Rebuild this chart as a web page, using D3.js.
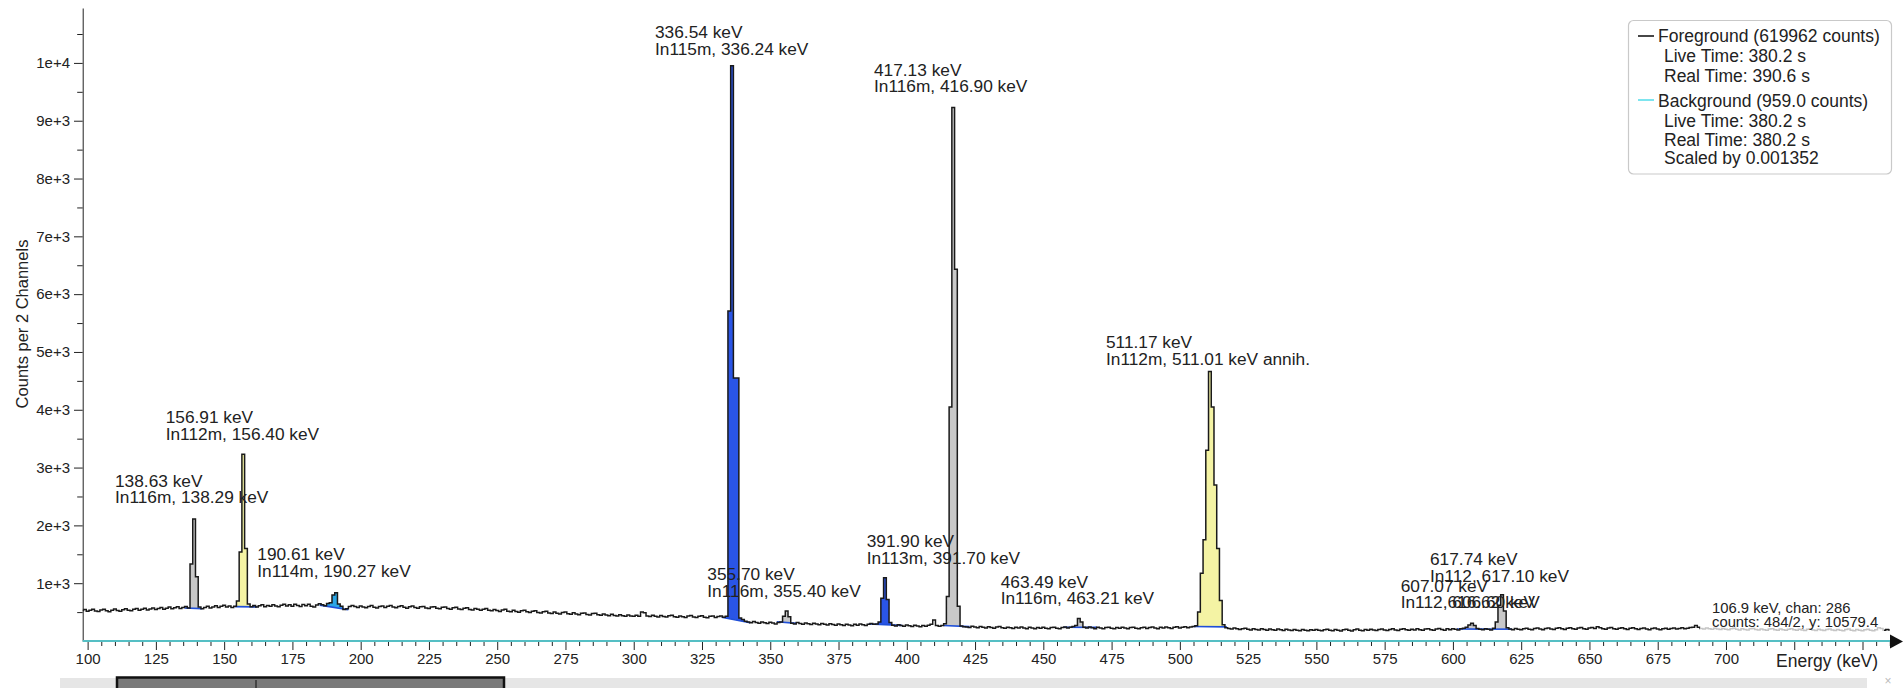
<!DOCTYPE html>
<html><head><meta charset="utf-8">
<script src="https://cdn.jsdelivr.net/npm/d3@7"></script>
<style>
html,body{margin:0;padding:0;background:#fff;overflow:hidden}
svg{display:block;font-family:"Liberation Sans",Arial,Helvetica,sans-serif}
</style></head><body>
<svg id="c" width="1903" height="688"></svg>
<script>
// ---------------- DATA ----------------
const energyStart = 98;      // keV, centre of first 1-keV bin
const foregroundCounts = [
 528,545,515,532,551,520,512,538,550,524,508,534,552,528,516,542,558,530,522,551,562,534,548,566,538,
 552,572,544,561,578,550,566,588,556,574,592,562,580,598,572,1330,2110,1110,590,558,580,602,570,590,610,
 580,600,618,586,606,580,600,690,1540,3230,1600,640,594,616,588,610,626,594,616,600,628,604,592,620,634,
 606,626,600,636,612,596,630,608,634,600,590,622,645,626,608,650,660,796,836,640,600,544,556,596,614,
 596,580,606,588,574,598,612,584,570,596,604,580,600,616,586,574,598,608,582,566,592,604,578,566,592,
 598,570,562,588,594,566,556,582,588,562,548,574,582,554,544,568,576,546,536,564,550,532,550,564,534,
 522,546,528,512,538,550,516,506,532,512,496,522,534,504,492,516,524,494,484,508,516,486,476,500,482,
 468,494,500,472,464,488,466,454,478,486,458,450,474,482,452,444,468,448,436,462,442,432,454,438,426,
 450,434,426,446,428,500,490,432,422,444,428,416,440,424,414,436,444,418,410,434,420,408,432,440,414,
 406,430,436,411,402,426,434,408,424,432,410,430,5710,9950,4550,4550,400,372,340,328,314,338,320,306,328,
 314,302,326,312,296,320,330,430,520,420,308,296,318,302,288,312,300,284,308,294,280,302,290,276,298,
 286,272,294,282,268,290,278,264,288,274,292,280,266,288,302,290,296,330,740,1095,720,320,272,258,280,
 268,254,276,264,251,272,260,246,268,256,274,290,365,268,254,268,300,770,4050,9230,6430,600,258,248,242,
 232,254,244,228,250,238,224,246,234,221,242,250,230,220,240,228,216,238,226,242,224,214,236,224,212,
 234,222,238,220,210,232,240,222,212,234,242,224,238,250,270,390,330,236,224,242,228,214,236,224,210,
 232,240,222,212,234,220,238,226,211,232,240,220,210,230,238,218,232,244,224,214,236,224,242,228,216,
 238,246,226,240,248,230,242,252,262,500,1170,1750,3300,4660,4050,2700,1600,700,280,230,218,206,226,210,200,
 214,220,204,192,214,200,190,212,198,186,208,196,184,206,194,182,202,190,180,200,188,178,198,186,176,
 196,184,200,186,176,196,204,186,176,198,184,174,194,202,184,174,196,206,188,178,198,186,202,190,180,
 200,208,190,180,200,210,192,182,202,212,194,184,204,192,210,196,186,206,214,196,186,208,216,198,188,
 210,196,214,202,192,212,220,240,275,305,270,215,204,194,214,202,192,222,330,620,800,520,230,206,196,
 216,204,194,214,222,204,194,216,224,206,196,218,226,208,198,220,228,210,200,222,230,212,202,224,232,
 214,204,226,234,216,246,230,212,202,224,232,212,202,222,230,210,200,220,228,210,198,218,226,208,196,
 216,224,206,194,214,222,204,216,224,206,218,228,210,222,234,240,270,236,216,206,224,212,202,220,208,
 200,216,204,194,212,220,202,192,212,200,190,210,218,200,190,208,196,186,206,214,196,186,206,194,184,
 204,212,194,184,204,192,182,202,210,192,182,202,190,180,200,208,190,180,200,188,178,198,206,188,178,
 198,186,176,196,204,186,176,196,230,215,188,200,190
];

// background spectrum: raw counts per 25 keV block, scaled for display
const backgroundStart = 98.2, backgroundBlock = 25, backgroundScale = 0.001352;
const backgroundCounts = [52,48,45,47,44,41,40,38,42,37,36,35,38,34,33,32,35,31,30,32,29,28,30,27,26,28,25];

// peak regions of interest (keV) and their continuum (counts) at each end
const roiLow      = [135.5, 154.0, 185.0, 332.2, 352.4, 386.0, 413.4, 457.4, 505.0, 601.5, 611.5];
const roiHigh     = [142.0, 162.0, 195.5, 342.6, 359.7, 398.2, 423.0, 469.6, 517.2, 611.5, 621.6];
const roiContLow  = [570, 595, 620, 410, 334, 294, 268, 238, 250, 207, 205];
const roiContHigh = [560, 590, 540, 317, 305, 270, 248, 236, 245, 205, 205];
const roiKind     = ["gray","yellow","cyan","blue","gray","blue","gray","gray","yellow","gray","gray"];

// peak labels
const peakLine1 = ["138.63 keV","156.91 keV","190.61 keV","336.54 keV","355.70 keV","391.90 keV",
                   "417.13 keV","463.49 keV","511.17 keV","607.07 keV","617.74 keV"];
const peakLine2 = ["In116m, 138.29 keV","In112m, 156.40 keV","In114m, 190.27 keV","In115m, 336.24 keV",
                   "In116m, 355.40 keV","In113m, 391.70 keV","In116m, 416.90 keV","In116m, 463.21 keV",
                   "In112m, 511.01 keV annih.","In112, 606.60 keV","In112, 617.10 keV"];
// label anchors in data coordinates (keV, counts) = left end of first baseline
const labelEnergy = [110.03,128.6,162.14,307.79,326.94,385.32,387.99,434.39,472.95,580.88,591.61];
const labelCounts = [2672,3771,1401,10431,1055,1631,9782,925,5069,856,1315];
const overlapText = "616.62 keV"; // drawn over the 607 label's second line

const legendForeground = ["Foreground (619962 counts)","Live Time: 380.2 s","Real Time: 390.6 s"];
const legendBackground = ["Background (959.0 counts)","Live Time: 380.2 s","Real Time: 380.2 s","Scaled by 0.001352"];
const cursorInfo = ["106.9 keV, chan: 286","counts: 484/2, y: 10579.4"];

const xMajorTicks = d3.range(100, 751, 25);
const xMinorTicks = d3.range(100, 761, 5).filter(v => v % 25 !== 0);
const yMajorTicks = d3.range(1000, 10001, 1000);
const yMinorTicks = d3.range(500, 10501, 1000);

// ---------------- STYLE ----------------
const FONT = '"Liberation Sans",Arial,Helvetica,sans-serif';
const TEXT = "#222";
const fillColor = {gray:"#c8c8c8", yellow:"#f4f3a4", cyan:"#2ba6e6", blue:"#2a55e6"};
const contColor = "#1f4fd8";
const bgColor = "#55bfc4";

// ---------------- CHART ----------------
const svg = d3.select("#c");
const x = d3.scaleLinear().domain([98.2, 763]).range([82.7, 1898]);
const y = d3.scaleLinear().domain([0, 10950]).range([641, 8]);

const fg = foregroundCounts.map((c, i) => ({e: energyStart + i, c}));

svg.append("defs").append("clipPath").attr("id","plot")
  .append("rect").attr("x",82.7).attr("y",0).attr("width",1898-82.7).attr("height",641);

const plot = svg.append("g").attr("clip-path","url(#plot)");

// peak fills
roiLow.forEach((lo, k) => {
  const hi = roiHigh[k];
  const cont = e => roiContLow[k] + (roiContHigh[k] - roiContLow[k]) * (e - lo) / (hi - lo);
  const pts = fg.filter(d => d.e >= lo && d.e <= hi);
  const area = d3.area().x(d => x(d.e)).y0(d => y(cont(d.e))).y1(d => y(d.c)).curve(d3.curveStep);
  plot.append("path").datum(pts).attr("d", area).attr("fill", fillColor[roiKind[k]]);
});

// continuum lines
roiLow.forEach((lo, k) => {
  const pts = [{e: lo, c: roiContLow[k]}, {e: roiHigh[k], c: roiContHigh[k]}];
  plot.append("path").datum(pts)
    .attr("d", d3.line().x(d => x(d.e)).y(d => y(d.c)))
    .attr("fill","none").attr("stroke", contColor).attr("stroke-width",1.6);
});

// foreground spectrum
plot.append("path").datum(fg)
  .attr("d", d3.line().x(d => x(d.e)).y(d => y(d.c)).curve(d3.curveStep))
  .attr("fill","none").attr("stroke","#1a1a1a").attr("stroke-width",1.5)
  .attr("stroke-linejoin","miter");

// Y axis
const yAxisG = svg.append("g").attr("transform","translate(82.7,0)");
yAxisG.call(d3.axisLeft(y).tickValues(yMajorTicks).tickSize(8.7).tickSizeOuter(0).tickPadding(4)
  .tickFormat(d3.format(".0e")));
yAxisG.append("g").call(d3.axisLeft(y).tickValues(yMinorTicks).tickSize(5.5).tickSizeOuter(0).tickFormat(""))
  .select(".domain").remove();
yAxisG.selectAll("text").attr("font-size",15).attr("font-family",FONT).attr("fill",TEXT);
yAxisG.selectAll("line,path").attr("stroke","#222");

// X axis
const xAxisG = svg.append("g").attr("transform","translate(0,641)");
xAxisG.call(d3.axisBottom(x).tickValues(xMajorTicks).tickSize(9).tickSizeOuter(0).tickPadding(3)
  .tickFormat(d => d <= 700 ? d : ""));
xAxisG.append("g").call(d3.axisBottom(x).tickValues(xMinorTicks).tickSize(5).tickSizeOuter(0).tickFormat(""))
  .select(".domain").remove();
xAxisG.selectAll("text").attr("font-size",15).attr("font-family",FONT).attr("fill",TEXT);
xAxisG.selectAll("line,path").attr("stroke","#222");

// background spectrum (scaled, lies on the axis)
const bgPts = backgroundCounts.map((c, k) => ({e: backgroundStart + k * backgroundBlock, c: c * backgroundScale}));
bgPts.push({e: 763, c: backgroundCounts[backgroundCounts.length - 1] * backgroundScale});
svg.append("path").datum(bgPts)
  .attr("d", d3.line().x(d => x(d.e)).y(d => y(d.c)).curve(d3.curveStepAfter))
  .attr("fill","none").attr("stroke", bgColor).attr("stroke-width",2.2);

// axis arrow
const xr = x.range()[1];
svg.append("path").attr("d", `M${xr-8},634.5 L${xr+5},641.5 L${xr-8},648.5 Z`).attr("fill","#111");

// axis titles
svg.append("text").attr("x",1776).attr("y",666.5).attr("font-size",17.5).attr("font-family",FONT)
  .attr("fill",TEXT).text("Energy (keV)");
svg.append("text").attr("transform","translate(27.5,324) rotate(-90)").attr("text-anchor","middle")
  .attr("font-size",16.5).attr("font-family",FONT).attr("fill",TEXT).text("Counts per 2 Channels");

// peak labels
const labG = svg.append("g").attr("font-size",17.3).attr("font-family",FONT).attr("fill",TEXT);
peakLine1.forEach((t, k) => {
  const lx = x(labelEnergy[k]), ly = y(labelCounts[k]);
  labG.append("text").attr("x",lx).attr("y",ly).text(t);
  labG.append("text").attr("x",lx).attr("y",ly + 16.8).text(peakLine2[k]);
  if (k === 9) {
    const pre = labG.append("text").attr("x",-1000).attr("y",-1000).text("In112, ");
    const w = pre.node().getComputedTextLength();
    pre.remove();
    labG.append("text").attr("x",lx + w).attr("y",ly + 16.8).text(overlapText);
  }
});

// cursor info box with translucent backdrop
svg.append("rect").attr("x",1700).attr("y",597).attr("width",184).attr("height",37)
  .attr("fill","#fff").attr("opacity",0.75);
cursorInfo.forEach((t, i) => {
  svg.append("text").attr("x",1712).attr("y",613 + i*13.6).attr("font-size",14.8)
    .attr("font-family",FONT).attr("fill",TEXT).text(t);
});

// legend
const lg = svg.append("g");
lg.append("rect").attr("x",1628.5).attr("y",20.5).attr("width",263).attr("height",153.5).attr("rx",5)
  .attr("fill","#fff").attr("stroke","#c9c9c9").attr("stroke-width",1.2);
lg.append("line").attr("x1",1638).attr("x2",1654).attr("y1",36).attr("y2",36)
  .attr("stroke","#333").attr("stroke-width",1.8);
lg.append("line").attr("x1",1638).attr("x2",1654).attr("y1",100).attr("y2",100)
  .attr("stroke","#6fe3ee").attr("stroke-width",1.8);
const lgText = (t, xx, yy) => lg.append("text").attr("x",xx).attr("y",yy).attr("font-size",17.5)
  .attr("font-family",FONT).attr("fill",TEXT).text(t);
legendForeground.forEach((t, i) => lgText(t, i === 0 ? 1658 : 1664, [42, 62, 81.5][i]));
legendBackground.forEach((t, i) => lgText(t, i === 0 ? 1658 : 1664, [106.5, 126.5, 145.5, 164][i]));

// bottom range slider
svg.append("rect").attr("x",60).attr("y",678).attr("width",1807).attr("height",12).attr("fill","#e6e6e6");
svg.append("rect").attr("x",117).attr("y",677.5).attr("width",387).attr("height",14)
  .attr("fill","#7a7a7a").attr("stroke","#111").attr("stroke-width",2.5);
svg.append("line").attr("x1",256).attr("x2",256).attr("y1",680).attr("y2",688).attr("stroke","#333").attr("stroke-width",1.5);
svg.append("text").attr("x",1888).attr("y",685).attr("text-anchor","middle").attr("font-size",12)
  .attr("font-family",FONT).attr("fill","#bbb").text("×");
</script>
</body></html>
